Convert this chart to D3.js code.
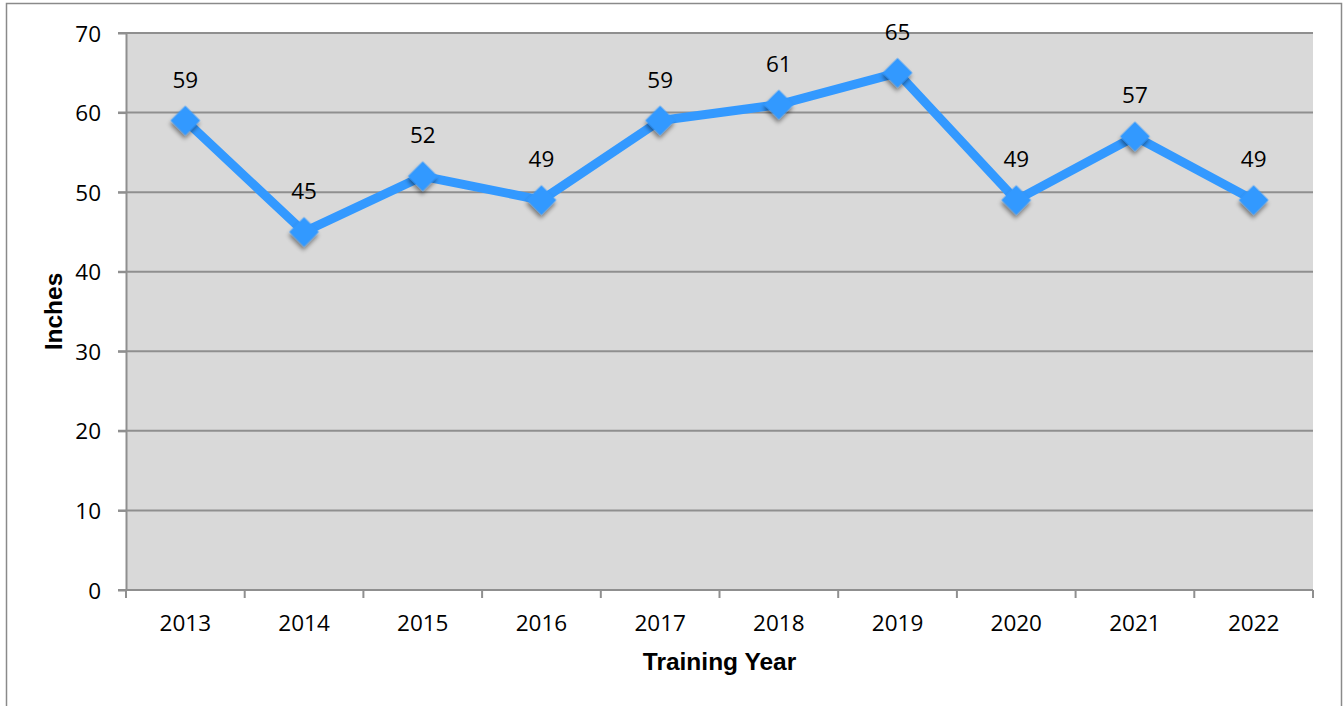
<!DOCTYPE html>
<html><head><meta charset="utf-8">
<script src="https://cdn.jsdelivr.net/npm/d3@7"></script>
<style>
html,body{margin:0;padding:0;background:#fff;}
svg{display:block;}
</style></head>
<body>
<svg id="chart" width="1344" height="706"></svg>
<script>
const categories = ["2013","2014","2015","2016","2017","2018","2019","2020","2021","2022"];
const values = [59,45,52,49,59,61,65,49,57,49];
const yTicks = [0,10,20,30,40,50,60,70];
const yTitle = "Inches";
const xTitle = "Training Year";

const svg = d3.select("#chart");
const m = {left:126, top:33, right:1313, bottom:590};
const numFont = "'Open Sans', 'Noto Sans', sans-serif";
const numSize = 22.5;

// outer border
svg.append("rect").attr("x",6.5).attr("y",3.5).attr("width",1335).attr("height",720)
  .attr("fill","#fff").attr("stroke","#8a8a8a").attr("stroke-width",1.5);

const defs = svg.append("defs");
const f = defs.append("filter").attr("id","shadow").attr("x","-50%").attr("y","-50%").attr("width","200%").attr("height","200%");
f.append("feDropShadow").attr("dx",2).attr("dy",3).attr("stdDeviation",2.2).attr("flood-color","#000").attr("flood-opacity",0.45);

const x = d3.scaleBand().domain(categories).range([m.left,m.right]).padding(0);
const y = d3.scaleLinear().domain([0,70]).range([m.bottom,m.top]);

// plot background
svg.append("rect").attr("x",m.left).attr("y",m.top).attr("width",m.right-m.left).attr("height",m.bottom-m.top).attr("fill","#d9d9d9");

// gridlines
svg.append("g").selectAll("line").data(yTicks.filter(d=>d>0)).join("line")
  .attr("x1",m.left-8).attr("x2",m.right)
  .attr("y1",d=>y(d)).attr("y2",d=>y(d))
  .attr("stroke","#8f8f8f").attr("stroke-width",2);

// y axis
const yAxis = svg.append("g").attr("transform",`translate(${m.left},0)`)
  .call(d3.axisLeft(y).tickValues(yTicks).tickSize(8).tickPadding(17).tickSizeOuter(0));
yAxis.select(".domain").attr("stroke","#8f8f8f").attr("stroke-width",2);
yAxis.selectAll(".tick line").attr("stroke","#8f8f8f").attr("stroke-width",2);
yAxis.selectAll("text").attr("font-family",numFont).attr("font-size",numSize).attr("fill","#000").attr("dy","0.36em");

// x axis
const xAxis = svg.append("g").attr("transform",`translate(0,${m.bottom})`)
  .call(d3.axisBottom(x).tickSize(0).tickPadding(25).tickSizeOuter(0));
xAxis.select(".domain").attr("stroke","#8f8f8f").attr("stroke-width",2).attr("d",`M${m.left-8},0H${m.right}`);
xAxis.selectAll("text").attr("font-family",numFont).attr("font-size",numSize).attr("fill","#000");
// boundary ticks
const bounds = categories.map(c=>x(c)).concat([x(categories[categories.length-1])+x.bandwidth()]);
xAxis.append("g").selectAll("line").data(bounds).join("line")
  .attr("x1",d=>d).attr("x2",d=>d).attr("y1",0).attr("y2",8)
  .attr("stroke","#8f8f8f").attr("stroke-width",2);

// titles
svg.append("text").attr("x",(m.left+m.right)/2).attr("y",670).attr("text-anchor","middle")
  .attr("font-family","'Liberation Sans', Arial, sans-serif").attr("font-weight","bold").attr("font-size",24.5).text(xTitle);
svg.append("text").attr("transform",`translate(62,${(m.top+m.bottom)/2}) rotate(-90)`).attr("text-anchor","middle")
  .attr("font-family","'Liberation Sans', Arial, sans-serif").attr("font-weight","bold").attr("font-size",24.5).text(yTitle);

const cx = d=>x(d.c)+x.bandwidth()/2;
const data = categories.map((c,i)=>({c, v:values[i]}));

// line
svg.append("path").datum(data)
  .attr("d", d3.line().x(cx).y(d=>y(d.v)))
  .attr("fill","none").attr("stroke","#3399ff").attr("stroke-width",9).attr("stroke-linejoin","miter");

// markers
const sym = d3.symbol().type(d3.symbolSquare).size(440);
svg.append("g").selectAll("path").data(data).join("path")
  .attr("d", sym)
  .attr("transform", d=>`translate(${cx(d)},${y(d.v)}) rotate(45)`)
  .attr("fill","#3399ff").attr("filter","url(#shadow)");

// labels
svg.append("g").selectAll("text").data(data).join("text")
  .attr("x", cx).attr("y", d=>y(d.v)-33)
  .attr("text-anchor","middle")
  .attr("font-family",numFont).attr("font-size",numSize).attr("fill","#000")
  .text(d=>d.v);
</script>
</body></html>
